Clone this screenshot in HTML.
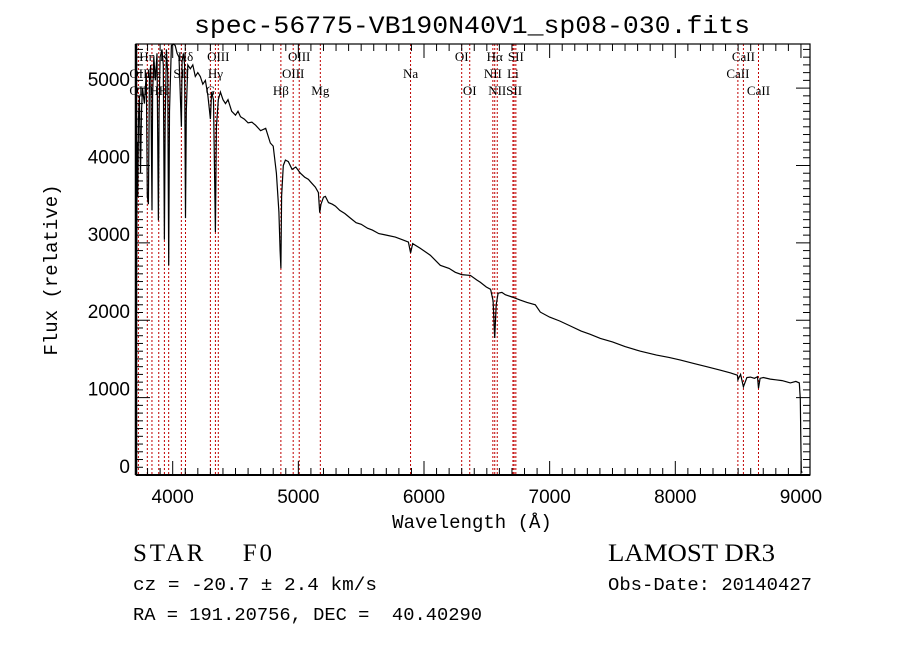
<!DOCTYPE html>
<html><head><meta charset="utf-8"><style>
body{margin:0;background:#fff;}
svg{display:block;font-family:"Liberation Sans",sans-serif;}
svg text{white-space:pre;}
.lbl{font-family:"Liberation Serif",serif;font-size:13px;fill:#000;}
</style></head><body>
<svg id="chart" width="900" height="649" viewBox="0 0 900 649">
<rect width="900" height="649" fill="#fff"/>
<text x="472" y="33" text-anchor="middle" font-family="Liberation Mono, monospace" font-size="25" textLength="556" lengthAdjust="spacingAndGlyphs">spec-56775-VB190N40V1_sp08-030.fits</text>
<g id="lines"></g>
<g id="labels"></g>
<g id="ticks"></g>
<path id="spec" fill="none" stroke="#000" stroke-width="1.2"/>
<text x="472" y="528" text-anchor="middle" font-family="Liberation Mono, monospace" font-size="19">Wavelength (Å)</text>
<text transform="translate(57,270) rotate(-90)" text-anchor="middle" font-family="Liberation Mono, monospace" font-size="19">Flux (relative)</text>
<text x="133" y="561" font-family="Liberation Serif, serif" font-size="25" textLength="139" lengthAdjust="spacing">STAR    F0</text>
<text x="608" y="561" font-family="Liberation Serif, serif" font-size="25" textLength="167" lengthAdjust="spacingAndGlyphs">LAMOST DR3</text>
<text x="133" y="590" font-family="Liberation Mono, monospace" font-size="18" textLength="244" lengthAdjust="spacingAndGlyphs">cz = -20.7 ± 2.4 km/s</text>
<text x="608" y="590" font-family="Liberation Mono, monospace" font-size="18" textLength="204" lengthAdjust="spacingAndGlyphs">Obs-Date: 20140427</text>
<text x="133" y="620" font-family="Liberation Mono, monospace" font-size="18" textLength="349" lengthAdjust="spacingAndGlyphs">RA = 191.20756, DEC =  40.40290</text>
</svg>
<script>
const wave=[3705,3712,3718,3722,3728,3735,3744,3752,3760,3775,3790,3798,3807,3815,3825,3835,3840,3850,3862,3875,3886,3892,3900,3915,3925,3934,3940,3950,3960,3968,3975,3990,4005,4020,4035,4050,4069,4075,4085,4095,4102,4108,4120,4140,4160,4180,4200,4220,4240,4260,4280,4300,4310,4325,4340,4348,4363,4380,4400,4420,4440,4470,4500,4520,4540,4570,4600,4630,4660,4700,4740,4777,4800,4825,4845,4855,4861,4867,4880,4897,4920,4950,4980,5016,5050,5080,5096,5136,5160,5170,5180,5200,5215,5240,5270,5295,5330,5370,5414,5460,5500,5550,5589,5640,5700,5772,5830,5876,5893,5910,5970,6050,6130,6200,6249,6300,6369,6420,6448,6496,6530,6550,6563,6575,6590,6620,6647,6700,6766,6820,6886,6926,7000,7080,7165,7250,7320,7404,7500,7600,7722,7850,7950,8041,8150,8250,8359,8440,8494,8498,8520,8542,8570,8598,8630,8654,8662,8675,8700,8756,8800,8850,8915,8960,8987,8995,9000,9003,9010];
const flux=[800,2600,4300,3600,4600,4900,3900,4700,5000,4800,5200,3600,3500,5100,5300,3420,4900,5400,5100,5450,3290,4700,5400,5500,5300,3040,4600,5500,5200,2710,4700,5550,5600,5550,5450,5400,4500,5350,5450,5300,3320,4700,5300,5250,5300,5150,5200,5150,5050,5100,4900,4600,4950,4850,3140,4500,4850,4950,4850,4800,4850,4700,4650,4700,4630,4600,4550,4560,4520,4450,4480,4290,4250,3900,3400,2900,2670,3600,4000,4070,4050,3950,3980,3900,3850,3820,3790,3720,3650,3390,3500,3590,3600,3520,3500,3475,3420,3380,3320,3260,3240,3190,3165,3120,3100,3075,3040,3010,2870,2990,2930,2840,2710,2670,2620,2590,2580,2520,2490,2430,2400,2250,1770,2200,2350,2360,2330,2300,2260,2230,2200,2105,2040,1990,1925,1860,1820,1765,1720,1660,1600,1550,1520,1485,1440,1400,1355,1320,1290,1230,1300,1140,1260,1265,1250,1270,1120,1250,1260,1240,1230,1220,1190,1210,1190,980,300,50,30];
const lineWaves=[3727,3798,3835,3889,3934,3968,4069,4102,4300,4340,4363,4861,4959,5007,5175,5893,6300,6364,6548,6563,6583,6708,6717,6731,8498,8542,8662];
const labelText=["Hη","K","Hδ","OIII","OIII","OI","Hα","SII","CaII","OII","Hε","SII","Hγ","OIII","Na","NII","Li","CaII","OII","HH","G","Hβ","Mg","OI","NII","SII","CaII"];
const labelWave=[3798,3934,4102,4363,5007,6300,6563,6731,8542,3727,3850,4069,4340,4959,5893,6548,6708,8498,3727,3889,4300,4861,5175,6364,6583,6717,8662];
const labelRow=[1,1,1,1,1,1,1,1,1,2,2,2,2,2,2,2,2,2,3,3,3,3,3,3,3,3,3];
const xTicks=[4000,5000,6000,7000,8000,9000];
const yTicks=[0,1000,2000,3000,4000,5000];
const L=136,R=810,T=44,B=475,XMIN=3708,XMAX=9072,YMIN=0,YMAX=5570;
const xs=v=>L+(v-XMIN)/(XMAX-XMIN)*(R-L);
const ys=v=>B-(v-YMIN)/(YMAX-YMIN)*(B-T);
const NS="http://www.w3.org/2000/svg";
function mk(tag,parent,attrs){const e=document.createElementNS(NS,tag);for(const k in attrs)e.setAttribute(k,attrs[k]);parent.appendChild(e);return e;}
const gl=document.getElementById('lines');
lineWaves.forEach(w=>{const e=mk('line',gl,{x1:xs(w),x2:xs(w),y1:T,y2:B,stroke:'#c00000','stroke-width':1,'stroke-dasharray':'2,2'});

});
const glab=document.getElementById('labels');
const rowY={1:61,2:78,3:95};
labelText.forEach((t,i)=>{const e=mk('text',glab,{x:xs(labelWave[i]),y:rowY[labelRow[i]],'text-anchor':'middle',class:'lbl'});e.textContent=t;

});
let d='';
wave.forEach((w,i)=>{const y=Math.max(T,Math.min(B,ys(flux[i])));d+=(i?'L':'M')+xs(w).toFixed(1)+','+y.toFixed(1);});
document.getElementById('spec').setAttribute('d',d);
const gt=document.getElementById('ticks');
mk('rect',gt,{x:L,y:T,width:R-L,height:B-T,fill:'none',stroke:'#000','stroke-width':1.2});
mk('line',gt,{x1:L,x2:L,y1:T,y2:B,stroke:'#000','stroke-width':2.5});
mk('line',gt,{x1:L,x2:R,y1:B,y2:B,stroke:'#000','stroke-width':2});
for(let w=3800;w<=9000;w+=100){const mj=w%1000===0,len=mj?14:7,x=xs(w);
mk('line',gt,{x1:x,x2:x,y1:B,y2:B-len,stroke:'#000'});mk('line',gt,{x1:x,x2:x,y1:T,y2:T+len,stroke:'#000'});}
for(let v=0;v<=5500;v+=100){const mj=v%1000===0,len=mj?14:7,y=ys(v);
mk('line',gt,{x1:L,x2:L+len,y1:y,y2:y,stroke:'#000'});mk('line',gt,{x1:R,x2:R-len,y1:y,y2:y,stroke:'#000'});}
xTicks.forEach(v=>{const e=mk('text',gt,{x:xs(v),y:503,'text-anchor':'middle','font-size':19});e.textContent=v;

});
yTicks.forEach(v=>{const e=mk('text',gt,{x:130,y:ys(v)-2,'text-anchor':'end','font-size':19});e.textContent=v;

});
</script>
</body></html>
